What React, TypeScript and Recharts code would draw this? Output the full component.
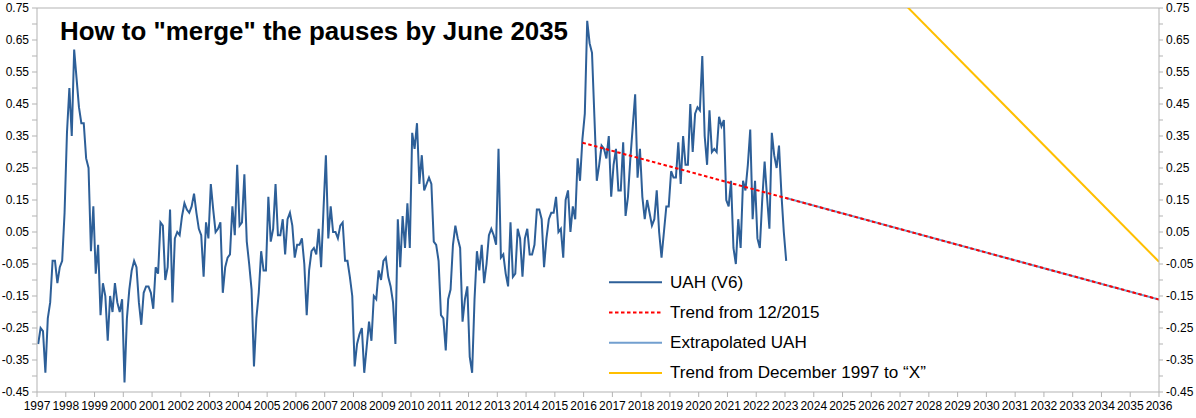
import { Line, LineChart, ReferenceLine, XAxis, YAxis } from "recharts";

// monthly UAH (V6) anomalies, Jan 1997 .. Jan 2023
const uahValues = [
  -0.3, -0.25, -0.26, -0.39, -0.22, -0.17, -0.04, -0.04, -0.11, -0.06, -0.04, 0.11,
  0.36, 0.5, 0.35, 0.62, 0.53, 0.44, 0.39, 0.39, 0.28, 0.25, -0.01, 0.13,
  -0.08, 0.01, -0.21, -0.11, -0.15, -0.29, -0.15, -0.2, -0.11, -0.17, -0.2, -0.16,
  -0.42, -0.22, -0.13, -0.07, -0.04, -0.06, -0.17, -0.24, -0.14, -0.12, -0.12, -0.14,
  -0.19, -0.06, -0.08, 0.08, 0.07, -0.1, -0.06, 0.12, -0.17, 0.03, 0.05, 0.04,
  0.1, 0.14, 0.12, 0.11, 0.13, 0.17, 0.11, 0.06, 0.04, -0.09, 0.08, 0.03,
  0.2, 0.12, 0.05, 0.06, 0.08, -0.14, -0.06, -0.03, -0.02, 0.13, 0.04, 0.26,
  0.07, 0.08, 0.23, 0.02, -0.05, -0.13, -0.37, -0.22, -0.14, -0.01, -0.07, -0.07,
  0.16, 0.02, 0.06, 0.2, 0.04, 0.04, 0.09, -0.02, 0.09, 0.11, 0.07, -0.03,
  0.01, 0.01, 0.03, -0.05, -0.21, -0.07, -0.01, 0.0, -0.02, 0.06, -0.06, 0.12,
  0.29, 0.03, 0.13, 0.05, 0.05, 0.03, 0.07, 0.08, -0.04, -0.04, -0.09, -0.15,
  -0.37, -0.3, -0.27, -0.25, -0.39, -0.31, -0.23, -0.29, -0.15, -0.16, -0.07, -0.1,
  -0.04, -0.03, -0.09, -0.12, -0.17, -0.3, 0.09, -0.06, 0.1, 0.0, 0.14, 0.0,
  0.36, 0.31, 0.39, 0.2, 0.29, 0.18, 0.2, 0.22, 0.2, 0.02, 0.01, -0.04,
  -0.21, -0.22, -0.32, -0.16, -0.13, 0.01, 0.07, 0.03, 0.0, -0.23, -0.16, -0.12,
  -0.34, -0.39, -0.16, -0.01, -0.07, 0.01, -0.11, -0.05, 0.04, 0.06, 0.04, 0.01,
  0.31, -0.03, -0.02, -0.08, -0.12, 0.08, -0.09, -0.08, 0.06, 0.03, -0.09, 0.03,
  0.06, -0.02, -0.02, 0.01, 0.12, 0.12, 0.09, -0.06, 0.03, 0.09, 0.11, 0.11,
  0.16, 0.05, 0.06, -0.03, 0.15, 0.18, 0.05, 0.13, 0.09, 0.28, 0.21, 0.34,
  0.42, 0.71, 0.64, 0.61, 0.41, 0.21, 0.26, 0.32, 0.31, 0.28, 0.35, 0.16,
  0.26, 0.31, 0.18, 0.18, 0.33, 0.1, 0.16, 0.28, 0.38, 0.48, 0.22, 0.31,
  0.16, 0.09, 0.15, 0.11, 0.07, 0.09, 0.18, 0.05, -0.03, 0.05, 0.13, 0.13,
  0.24, 0.22, 0.22, 0.33, 0.2, 0.35, 0.26, 0.26, 0.45, 0.3, 0.42, 0.44,
  0.43, 0.6, 0.35, 0.26, 0.43, 0.3, 0.31, 0.3, 0.41, 0.38, 0.4, 0.15,
  0.13, 0.21, 0.0, -0.05, 0.09, 0.0, 0.21, 0.18, 0.26, 0.37, 0.09, 0.21,
  0.03, 0.0, 0.15, 0.27, 0.16, 0.06, 0.36, 0.29, 0.25, 0.32, 0.17, 0.05,
  -0.04,
];
const uahStartYear = 1997;

// straight lines: [start, end]
const trendYears = [2015.96, 2036];
const trendValues = [0.329, -0.161];
const extrapYears = [2023.04, 2036];
const extrapValues = [0.156, -0.161];
const longTrendYears = [1997.96, 2036];
const longTrendValues = [3.42, -0.043];

const yearTicks = [
  1997, 1998, 1999, 2000, 2001, 2002, 2003, 2004, 2005, 2006, 2007, 2008, 2009,
  2010, 2011, 2012, 2013, 2014, 2015, 2016, 2017, 2018, 2019, 2020, 2021, 2022,
  2023, 2024, 2025, 2026, 2027, 2028, 2029, 2030, 2031, 2032, 2033, 2034, 2035, 2036,
];
const valueTicks = [
  -0.45, -0.4, -0.35, -0.3, -0.25, -0.2, -0.15, -0.1, -0.05, 0, 0.05, 0.1, 0.15,
  0.2, 0.25, 0.3, 0.35, 0.4, 0.45, 0.5, 0.55, 0.6, 0.65, 0.7, 0.75,
];

const legendItems = [
  { name: "UAH (V6)", color: "#2d5f98", dash: undefined },
  { name: "Trend from 12/2015", color: "#ff0000", dash: "3.5 2.5" },
  { name: "Extrapolated UAH", color: "#729fcf", dash: undefined },
  { name: "Trend from December 1997 to \u201cX\u201d", color: "#ffbf00", dash: undefined },
];

const pairs = (xs: number[], vs: number[]) => xs.map((x, i) => ({ x, v: vs[i] }));

const uahData = uahValues.map((v, i) => ({ x: uahStartYear + (i + 0.5) / 12, v }));
const trendData = pairs(trendYears, trendValues);
const extrapData = pairs(extrapYears, extrapValues);
const longTrendData = pairs(longTrendYears, longTrendValues);

const FONT = "'Liberation Sans', Arial, sans-serif";
const GRAY = "#b3b3b3";

// only every other tick (.x5) carries a label
const renderYTick = (props: any) => {
  const { x, y, payload, textAnchor } = props;
  const hundredths = Math.round(payload.value * 100);
  if (hundredths % 10 === 0) return <g />;
  return (
    <text x={x} y={y} dy={4} textAnchor={textAnchor} fontSize={12} fill="#000" fontFamily={FONT}>
      {payload.value.toFixed(2)}
    </text>
  );
};

export default function App() {
  return (
    <div style={{ position: "absolute", left: 0, top: 0, width: 1196, height: 418, fontFamily: FONT, background: "#fff" }}>
      <LineChart width={1196} height={418} margin={{ top: 8, right: 0, bottom: 0, left: 0 }}>
        <XAxis
          dataKey="x"
          type="number"
          domain={[1997, 2036]}
          ticks={yearTicks}
          interval={0}
          allowDataOverflow
          height={26}
          tickSize={5}
          tickMargin={4}
          stroke={GRAY}
          tickLine={{ stroke: GRAY }}
          tick={{ fill: "#000", fontSize: 12, fontFamily: FONT }}
        />
        <YAxis
          yAxisId="left"
          orientation="left"
          type="number"
          domain={[-0.45, 0.75]}
          ticks={valueTicks}
          interval={0}
          allowDataOverflow
          width={37}
          tickSize={5}
          tickMargin={3}
          stroke={GRAY}
          tickLine={{ stroke: GRAY }}
          tick={renderYTick}
        />
        <YAxis
          yAxisId="right"
          orientation="right"
          type="number"
          domain={[-0.45, 0.75]}
          ticks={valueTicks}
          interval={0}
          allowDataOverflow
          width={37}
          tickSize={4}
          tickMargin={3}
          stroke={GRAY}
          tickLine={{ stroke: GRAY }}
          tick={renderYTick}
        />
        <ReferenceLine yAxisId="left" y={0.75} stroke={GRAY} />
        <Line
          yAxisId="left"
          data={uahData}
          dataKey="v"
          stroke="#2d5f98"
          strokeWidth={2}
          dot={false}
          activeDot={false}
          isAnimationActive={false}
        />
        <Line
          yAxisId="left"
          data={extrapData}
          dataKey="v"
          stroke="#729fcf"
          strokeWidth={2}
          dot={false}
          activeDot={false}
          isAnimationActive={false}
        />
        <Line
          yAxisId="left"
          data={trendData}
          dataKey="v"
          stroke="#ff0000"
          strokeWidth={2}
          strokeDasharray="3.5 2.5"
          dot={false}
          activeDot={false}
          isAnimationActive={false}
        />
        <Line
          yAxisId="right"
          data={longTrendData}
          dataKey="v"
          stroke="#ffbf00"
          strokeWidth={2}
          dot={false}
          activeDot={false}
          isAnimationActive={false}
        />
      </LineChart>

      {/* title + legend drawn over the plot */}
      <svg width={1196} height={418} style={{ position: "absolute", left: 0, top: 0, pointerEvents: "none" }}>
        <text x={60} y={40} fontSize={25.9} fontWeight="bold" fill="#000" fontFamily={FONT}>
          How to "merge" the pauses by June 2035
        </text>
        {legendItems.map((item, i) => {
          const cy = 282.3 + i * 30.2;
          return (
            <g key={item.name}>
              <line
                x1={609}
                x2={662}
                y1={cy}
                y2={cy}
                stroke={item.color}
                strokeWidth={2}
                strokeDasharray={item.dash}
              />
              <text x={670} y={cy + 5.5} fontSize={17.1} fill="#000" fontFamily={FONT}>
                {item.name}
              </text>
            </g>
          );
        })}
      </svg>
    </div>
  );
}
